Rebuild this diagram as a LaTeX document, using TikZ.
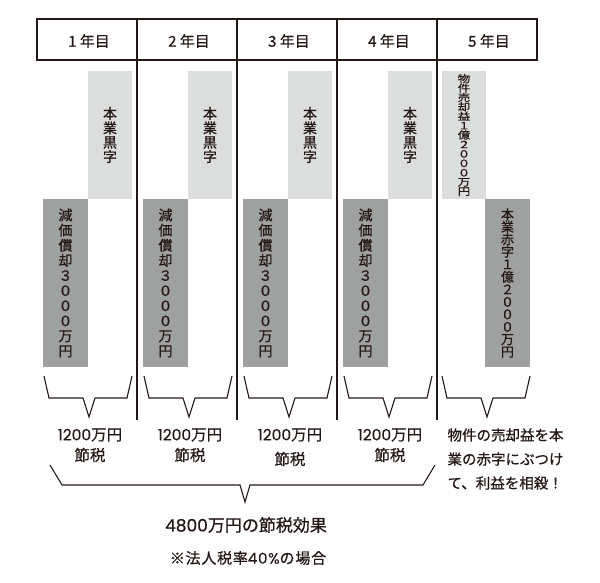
\documentclass[tikz,border=0pt]{standalone}
\usepackage{fontspec}
\setmainfont{Noto Sans CJK JP}[FakeBold=0.7]
\newfontfamily\digits{Poppins}[FakeBold=0.4]
\usepackage{graphicx}
\definecolor{ink}{HTML}{231815}
\definecolor{lightbar}{HTML}{DCDDDD}
\definecolor{darkbar}{HTML}{9FA0A0}
% vertical column of characters at a fixed pitch
\newcommand\tate[2]{\vbox{\baselineskip=#1\lineskiplimit=-100pt\relax
  \halign{\hfil##\hfil\cr#2\crcr}}}

\begin{document}
\begin{tikzpicture}[x=1pt, y=-1pt,
  frame/.style={draw=ink, line width=1.6pt},
  brace/.style={draw=ink, line width=1.1pt},
  yearlabel/.style={font=\fontsize{15}{16}\selectfont, text=ink},
  profitbar/.style={fill=lightbar, minimum width=44pt, minimum height=128pt, inner sep=0pt,
    text=ink, font=\fontsize{14}{15}\selectfont},
  lossbar/.style={fill=darkbar, minimum width=45pt, minimum height=168pt, inner sep=0pt,
    text=ink, font=\fontsize{14}{15}\selectfont},
  savelabel/.style={font=\fontsize{15.5}{16}\selectfont, text=ink}]
\useasboundingbox (0,0) rectangle (600,583);

% header row
\draw[frame] (37,19) rectangle (537,60);
\foreach \i in {1,...,5}
  \node[yearlabel] (year\i) at ({89+100*(\i-1)},41) {\i\ 年目};
\foreach \x in {137,237,337,437}
  \draw[frame] (\x,19) -- (\x,420);

% bars
\foreach \i in {1,...,4} {
  \pgfmathsetmacro\xo{37+100*(\i-1)}
  \node[profitbar] (profit\i) at (\xo+73,135) {\tate{14.4pt}{本\cr 業\cr 黒\cr 字}};
  \node[lossbar] (deprec\i) at (\xo+28.5,283)
    {\tate{15.1pt}{減\cr 価\cr 償\cr 却\cr ３\cr ０\cr ０\cr ０\cr 万\cr 円}};
}
\node[profitbar, font=\fontsize{12.5}{13}\selectfont] (gain) at (464,135)
  {\scalebox{1}[0.8]{\tate{11.75pt}{物\cr 件\cr 売\cr 却\cr 益\cr １\cr 億\cr ２\cr ０\cr ０\cr ０\cr 万\cr 円}}};
\node[lossbar, font=\fontsize{13}{13}\selectfont] (loss) at (507.5,283)
  {\tate{12.5pt}{本\cr 業\cr 赤\cr 字\cr １\cr 億\cr ２\cr ０\cr ０\cr ０\cr 万\cr 円}};

% brackets under each year
\foreach \xo in {37,137,237,337,435}
  \draw[brace] (\xo+7,376) -- (\xo+12,398) -- (\xo+46,398) -- (\xo+52,417)
    -- (\xo+58,398) -- (\xo+90,398) -- (\xo+95,376);

\foreach \xo/\ty [count=\i] in {37/455,137/455,237/459,337/455} {
  \node[savelabel] (save\i) at (\xo+53,435) {{\digits 1200}万円};
  \node[savelabel] (tax\i) at (\xo+53,\ty) {節税};
}
\node[savelabel, anchor=west, align=left, font=\fontsize{14.5}{24}\selectfont] (offset) at (444,459)
  {物件の売却益を本\\業の赤字にぶつけ\\て、利益を相殺！};

% total
\draw[brace] (50,465) -- (62,485) -- (240,485) -- (245,502) -- (250,485) -- (423,485) -- (435,465);
\node[font=\fontsize{17}{18}\selectfont, text=ink] (total) at (246,525) {{\digits 4800}万円の節税効果};
\node[font=\fontsize{15}{16}\selectfont, text=ink] (note) at (248,558)
  {\addfontfeature{LetterSpace=5}※法人税率{\digits\addfontfeature{LetterSpace=5}40\%}の場合};
\end{tikzpicture}
\end{document}
